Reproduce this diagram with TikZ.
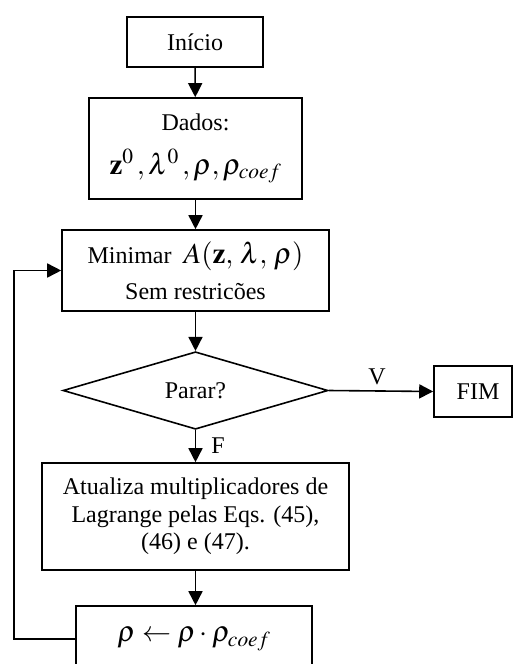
\documentclass[tikz,border=0pt]{standalone}
\usepackage{mathptmx}
\usepackage[no-math]{fontspec}
\setmainfont{Liberation Serif}
\usetikzlibrary{arrows.meta,shapes.geometric}

\begin{document}
\begin{tikzpicture}[x=1pt,y=-1pt,
  font=\fontsize{24}{28}\selectfont,
  box/.style={draw, line width=1.6pt, inner sep=0pt, align=center},
  decision/.style={draw, diamond, line width=1.6pt, inner sep=0pt,
    minimum width=265pt, minimum height=77pt},
  flow/.style={line width=1.6pt, -{Triangle[length=14pt,width=14pt]}},
  bigmath/.style={font=\fontsize{29}{34}\selectfont}]
\useasboundingbox (0,0) rectangle (513,664);
\clip (0,0) rectangle (513,664);

% process boxes
\node[box, minimum width=136pt, minimum height=50pt] (ini) at (195,42) {Início};
\node[box, minimum width=213pt, minimum height=101pt] (dados) at (195.5,148.5)
  {Dados:\\[16pt] \fontsize{29}{34}\selectfont $\mathbf{z}^0\,, \lambda^0\,, \rho, \rho_{coef}$};
\node[box, minimum width=267pt, minimum height=81pt] (mini) at (195.5,270.5)
  {Minimar \ {\fontsize{29}{34}\selectfont $A(\mathbf{z},\,\lambda,\,\rho)$}\\[8pt] Sem restricões};
\node[decision] (dec) at (195.5,390.5) {Parar?};
\node[box, minimum width=78pt, minimum height=51pt] (fim) at (473,391.5) {\hspace*{10pt}FIM};
\node[box, minimum width=307pt, minimum height=107pt, font=\fontsize{24}{27.5}\selectfont]
  (atu) at (195.5,516.5)
  {Atualiza multiplicadores de\\ Lagrange pelas Eqs. (45),\\ (46) e (47).};
\node[box, minimum width=236pt, minimum height=66pt, bigmath] (rho) at (194,639)
  {$\rho \leftarrow \rho\cdot\rho_{coef}$};

% branch labels
\node (vlab) at (377,377) {V};
\node (flab) at (218,446) {F};

% connectors
\coordinate (loop) at (14,639);
\draw[flow] (ini) -- (dados);
\draw[flow] (dados) -- (mini);
\draw[flow] (mini) -- (dec);
\draw[flow] (dec.east) -- (fim.west);
\draw[flow] (dec.south) -- (atu.north);
\draw[flow] (atu.south) -- (atu.south |- rho.north);
\draw[flow] (rho.west) -- (loop) |- (mini.west);
\end{tikzpicture}
\end{document}
